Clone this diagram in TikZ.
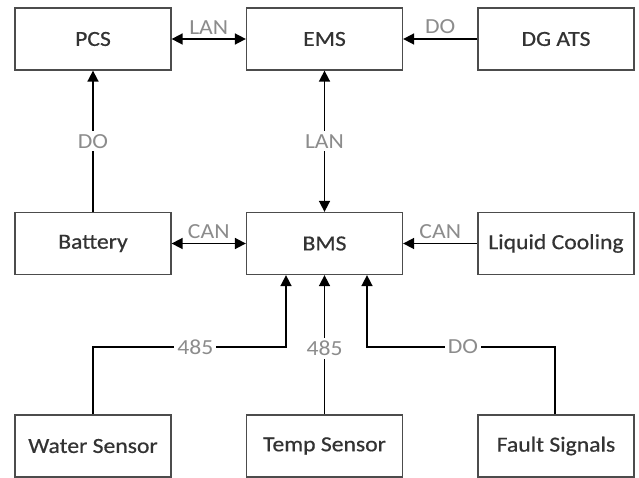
\documentclass[tikz,border=0pt]{standalone}
\usepackage{fontspec}
\setmainfont{Carlito}[FakeStretch=1.1]
\newfontfamily\boxfont{Carlito}[FakeStretch=1.1, FakeBold=0.6]
\usetikzlibrary{arrows.meta}
\begin{document}
\begin{tikzpicture}[x=1pt,y=-1pt,
  box/.style={draw=black!70, line width=1.3pt, minimum width=156pt, minimum height=62pt, inner sep=0pt, font=\boxfont\fontsize{21.5}{21.5}\selectfont, text=black!80},
  conn/.style={line width=1.7pt, -{Triangle[length=11pt,width=11pt]}},
  both/.style={line width=1.7pt, {Triangle[length=11pt,width=11pt]}-{Triangle[length=11pt,width=11pt]}},
  lbl/.style={font=\fontsize{21.5}{21.5}\selectfont, text=black!45, inner sep=2pt},
  cut/.style={lbl, fill=white, inner sep=3pt}]
\useasboundingbox[fill=white] (0,0) rectangle (639,478);

\node[box] (pcs) at (93,39) {PCS};
\node[box] (ems) at (324.5,39) {EMS};
\node[box] (dg)  at (556,39) {DG ATS};
\node[box] (bat) at (93,243.5) {Battery};
\node[box] (bms) at (324.5,243.5) {BMS};
\node[box] (liq) at (556,243.5) {Liquid Cooling};
\node[box] (ws)  at (93,446) {Water Sensor};
\node[box] (ts)  at (324.5,446) {Temp Sensor};
\node[box] (fs)  at (556,446) {Fault Signals};

\draw[both] (pcs) -- node[lbl, above=2pt] {LAN} (ems);
\draw[conn] (dg) -- node[lbl, above=2pt] {DO} (ems);
\draw[conn] (bat) -- node[cut] {DO} (pcs);
\draw[both] (bms) -- node[cut] {LAN} (ems);
\draw[both] (bat) -- node[lbl, above=2pt] {CAN} (bms);
\draw[conn] (liq) -- node[lbl, above=2pt] {CAN} (bms);

\coordinate (w1) at (93,347);
\coordinate (w2) at (286,347);
\draw[conn] (ws.north) -- (w1) -- node[cut, pos=0.53] {485} (w2) -- (w2 |- bms.south);
\draw[conn] (ts) -- node[cut, pos=0.475] {485} (bms);
\coordinate (f1) at (555,347);
\coordinate (f2) at (367,347);
\draw[conn] (fs.north -| f1) -- (f1) -- node[cut, pos=0.49] {DO} (f2) -- (f2 |- bms.south);
\end{tikzpicture}
\end{document}
